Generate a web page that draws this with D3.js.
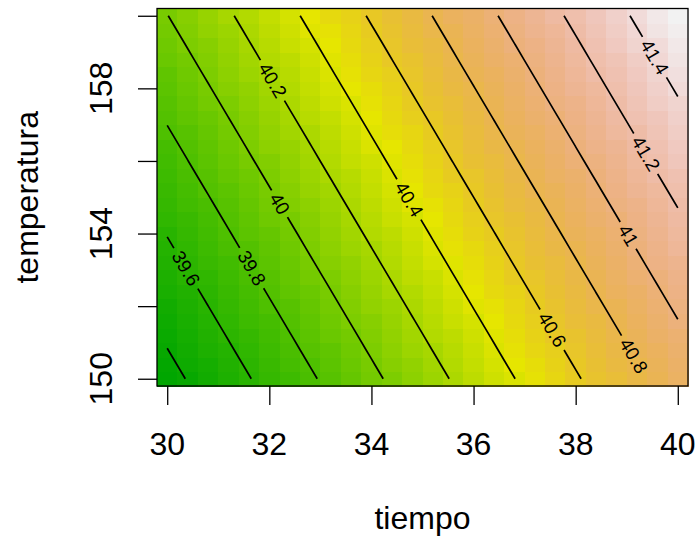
<!DOCTYPE html>
<html><head><meta charset="utf-8">
<script src="https://cdn.jsdelivr.net/npm/d3@7"></script>
<style>body{margin:0;background:#fff} svg{display:block} text{font-family:"Liberation Sans",Arial,Helvetica,sans-serif}</style>
</head><body><svg id="c" width="696" height="538"></svg>
<script>
// ---- data ----
const tiempo = [30,30.4,30.8,31.2,31.6,32,32.4,32.8,33.2,33.6,34,34.4,34.8,35.2,35.6,36,36.4,36.8,37.2,37.6,38,38.4,38.8,39.2,39.6,40];
const temperatura = [150,150.4,150.8,151.2,151.6,152,152.4,152.8,153.2,153.6,154,154.4,154.8,155.2,155.6,156,156.4,156.8,157.2,157.6,158,158.4,158.8,159.2,159.6,160];
// fitted first-order response surface
const coefIntercept = 24.9257;
const coefTiempo = 0.1548;
const coefTemperatura = 0.06517;
const contourLevels = [39.4,39.6,39.8,40,40.2,40.4,40.6,40.8,41,41.2,41.4];
const labelledLevels = [39.6,39.8,40,40.2,40.4,40.6,40.8,41,41.2,41.4];
const labelTemperatura = [153.04,153.05,154.82,158.22,154.94,151.35,150.63,153.95,156.2,158.86];
const tiempoTicks = [30,32,34,36,38,40];
const tempTicks = [150,152,154,156,158,160];
const tempTickLabels = [150,154,158];
const nColors = 100;

// ---- setup ----
const svg = d3.select("#c");
const step = 0.4;
const x = d3.scaleLinear().domain([tiempo[0]-step/2, tiempo[tiempo.length-1]+step/2]).range([157, 688]);
const y = d3.scaleLinear().domain([temperatura[0]-step/2, temperatura[temperatura.length-1]+step/2]).range([386, 8.5]);

const z = tiempo.map(t => temperatura.map(T => coefIntercept + coefTiempo*t + coefTemperatura*T));
const zAll = z.flat();
const zMin = d3.min(zAll), zMax = d3.max(zAll);

function hsv2rgb(h,s,v){
  h = (h % 1) * 6; const i = Math.floor(h), f = h - i;
  const p = v*(1-s), q = v*(1-s*f), t = v*(1-s*(1-f));
  const m = [[v,t,p],[q,v,p],[p,v,t],[p,q,v],[t,p,v],[v,p,q]][i % 6];
  return d3.rgb(m[0]*255, m[1]*255, m[2]*255).formatHex();
}
function terrainColors(n){
  const k = Math.floor(n/2);
  const lin = (a,b,len) => len === 1 ? [a] : d3.range(len).map(i => a + (b-a)*i/(len-1));
  const h1 = lin(4/12,2/12,k), s1 = lin(1,1,k), v1 = lin(0.65,0.9,k);
  const h2 = lin(2/12,0,n-k+1).slice(1), s2 = lin(1,0,n-k+1).slice(1), v2 = lin(0.9,0.95,n-k+1).slice(1);
  return h1.map((h,i)=>hsv2rgb(h,s1[i],v1[i])).concat(h2.map((h,i)=>hsv2rgb(h,s2[i],v2[i])));
}
const pal = terrainColors(nColors);
const color = d3.scaleQuantize().domain([zMin, zMax]).range(pal);

// ---- image cells ----
const cells = [];
tiempo.forEach((t,i) => temperatura.forEach((T,j) => cells.push({t, T, v: z[i][j]})));
svg.append("g").attr("shape-rendering","crispEdges").selectAll("rect").data(cells).join("rect")
  .attr("x", d => x(d.t - step/2))
  .attr("y", d => y(d.T + step/2))
  .attr("width", d => x(d.t + step/2) - x(d.t - step/2) + 0.6)
  .attr("height", d => y(d.T - step/2) - y(d.T + step/2) + 0.6)
  .attr("fill", d => color(d.v));

// ---- contour lines (marching grid crossings) ----
function isoline(level){
  const pts = [];
  for (let i=0;i<tiempo.length;i++) for (let j=0;j<temperatura.length;j++){
    const v0 = z[i][j];
    if (i+1 < tiempo.length){
      const v1 = z[i+1][j];
      if ((v0-level)*(v1-level) <= 0 && v0 !== v1){
        const f = (level-v0)/(v1-v0);
        pts.push([tiempo[i] + f*(tiempo[i+1]-tiempo[i]), temperatura[j]]);
      }
    }
    if (j+1 < temperatura.length){
      const v1 = z[i][j+1];
      if ((v0-level)*(v1-level) <= 0 && v0 !== v1){
        const f = (level-v0)/(v1-v0);
        pts.push([tiempo[i], temperatura[j] + f*(temperatura[j+1]-temperatura[j])]);
      }
    }
  }
  pts.sort((a,b) => a[0]-b[0] || b[1]-a[1]);
  return pts;
}
const line = d3.line().x(d => x(d[0])).y(d => y(d[1]));
const gC = svg.append("g");
const fontLab = 19;
contourLevels.forEach(level => {
  const pts = isoline(level);
  if (pts.length < 2) return;
  const px = pts.map(p => [x(p[0]), y(p[1])]);
  let total = 0; const cum = [0];
  for (let k=1;k<px.length;k++){ total += Math.hypot(px[k][0]-px[k-1][0], px[k][1]-px[k-1][1]); cum.push(total); }
  const path = gC.append("path").attr("d", line(pts)).attr("fill","none").attr("stroke","#000").attr("stroke-width",1.7);
  const li = labelledLevels.indexOf(level);
  if (li < 0) return;
  const T = labelTemperatura[li];
  let k = 1;
  while (k < pts.length-1 && pts[k][1] > T) k++;
  const a = pts[k-1], b = pts[k];
  const f = (a[1] === b[1]) ? 0 : (a[1]-T)/(a[1]-b[1]);
  const lx = x(a[0] + f*(b[0]-a[0])), ly = y(a[1] + f*(b[1]-a[1]));
  const dist = cum[k-1] + f*(cum[k]-cum[k-1]);
  const ang = Math.atan2(px[k][1]-px[k-1][1], px[k][0]-px[k-1][0]) * 180/Math.PI;
  const txt = gC.append("text").attr("transform", `translate(${lx},${ly}) rotate(${ang})`)
    .attr("text-anchor","middle").attr("dominant-baseline","central")
    .attr("font-size", fontLab).attr("fill","#000").text(d3.format("")(level));
  const w = txt.node().getComputedTextLength();
  const gap = w + 10;
  const start = Math.max(0.01, dist-gap/2);
  const rest = total - (dist + gap/2);
  if (rest < 12) path.attr("stroke-dasharray", `${start} ${total+10}`);
  else path.attr("stroke-dasharray", `${start} ${gap} ${total+10}`);
});

// ---- frame ----
svg.append("rect").attr("x", x.range()[0]).attr("y", y.range()[1])
  .attr("width", x.range()[1]-x.range()[0]).attr("height", y.range()[0]-y.range()[1])
  .attr("fill","none").attr("stroke","#000").attr("stroke-width",1.3);

// ---- axes ----
const fs = 32;
const xAxis = svg.append("g").attr("transform", `translate(0,${y.range()[0]})`)
  .call(d3.axisBottom(x).tickValues(tiempoTicks).tickSize(19).tickFormat(""));
xAxis.select(".domain").remove();
xAxis.selectAll("line").attr("stroke","#000").attr("stroke-width",1.3);
svg.append("g").selectAll("text").data(tiempoTicks).join("text")
  .attr("x", d => x(d)).attr("y", 455).attr("text-anchor","middle")
  .attr("font-size", fs).attr("fill","#000").text(d => d);

const yAxis = svg.append("g").attr("transform", `translate(${x.range()[0]},0)`)
  .call(d3.axisLeft(y).tickValues(tempTicks).tickSize(19).tickFormat(""));
yAxis.select(".domain").remove();
yAxis.selectAll("line").attr("stroke","#000").attr("stroke-width",1.3);
svg.append("g").selectAll("text").data(tempTickLabels).join("text")
  .attr("transform", d => `translate(112,${y(d)}) rotate(-90)`).attr("text-anchor","middle")
  .attr("font-size", fs).attr("fill","#000").text(d => d);

// ---- titles ----
svg.append("text").attr("x", (x.range()[0]+x.range()[1])/2).attr("y", 529).attr("text-anchor","middle")
  .attr("font-size", fs).attr("fill","#000").text("tiempo");
svg.append("text").attr("transform", `translate(37.5,${(y.range()[0]+y.range()[1])/2}) rotate(-90)`)
  .attr("text-anchor","middle").attr("font-size", fs).attr("fill","#000").text("temperatura");
</script></body></html>
